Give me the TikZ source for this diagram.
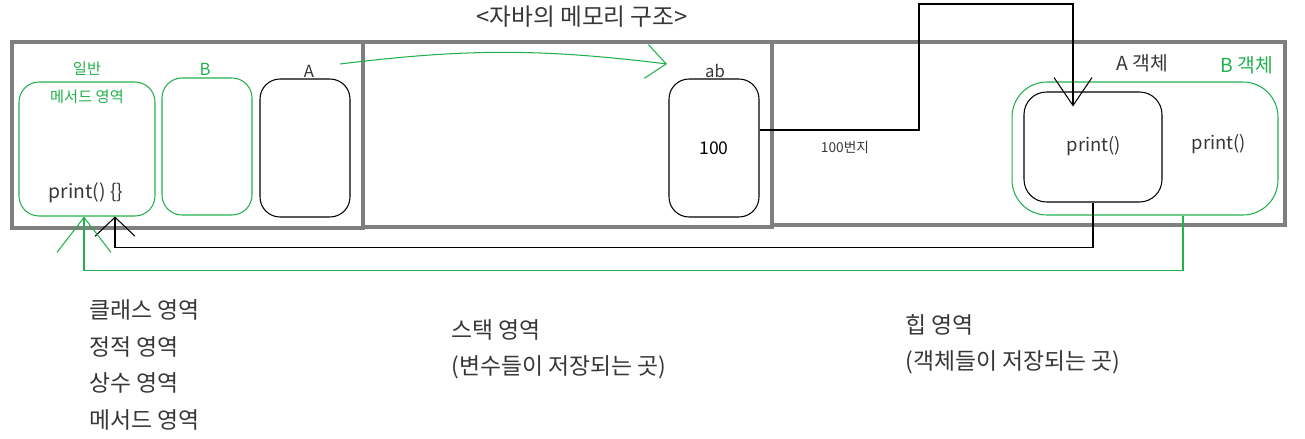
\documentclass[tikz,border=0pt]{standalone}
\usepackage{fontspec}
\setmainfont{Noto Sans CJK KR}
\usepackage{xcolor}
\definecolor{FrameGray}{RGB}{127,127,127}
\definecolor{PaintGreen}{RGB}{34,177,76}
\definecolor{InkGray}{RGB}{55,55,55}
\usetikzlibrary{arrows.meta, positioning}

\begin{document}
\begin{tikzpicture}[
        x=0.02cm, y=-0.02cm,
        line width=0.6pt,
        % Styles
        area/.style={draw=FrameGray, line width=2.8pt},
        slot/.style={draw, rounded corners=0.4cm, minimum width=1.8cm, minimum height=2.76cm, inner sep=0pt},
        gslot/.style={slot, draw=PaintGreen},
        obj/.style={draw, rounded corners=0.45cm, minimum width=2.76cm, minimum height=2.2cm, inner sep=0pt},
        gobj/.style={obj, draw=PaintGreen, rounded corners=0.7cm, minimum width=5.32cm, minimum height=2.66cm},
        txt/.style={text=InkGray, inner sep=1pt, font=\fontsize{9.5}{11}\selectfont},
        gtxt/.style={txt, text=PaintGreen},
        note/.style={txt, anchor=west, font=\fontsize{13}{15}\selectfont},
        ref_arrow/.style={-{Straight Barb[length=0.56cm, width=0.76cm]}},
        back_arrow/.style={-{Straight Barb[length=0.38cm, width=0.8cm]}},
        gback_arrow/.style={PaintGreen, -{Straight Barb[length=0.7cm, width=1.08cm]}},
        gref_arrow/.style={PaintGreen, -{Straight Barb[length=0.4cm, width=0.68cm]}}
    ]
    \useasboundingbox (0,0) rectangle (1305,439);

    % 1. TITLE
    \node[txt, font=\fontsize{13.5}{16}\selectfont] (title) at (582,17) {<자바의 메모리 구조>};

    % 2. THE THREE AREAS
    \draw[area] (12,42) rectangle (363,228);
    \draw[area] (363,42) rectangle (772,227);
    \draw[area] (772,42) rectangle (1285,225);

    % 3. CLASS AREA
    \node[gslot, minimum width=2.72cm, minimum height=2.68cm] (method) at (87,149) {};
    \node[gtxt, font=\fontsize{8.7}{10}\selectfont] (normal) at (87,69) {일반};
    \node[gtxt, font=\fontsize{8.7}{10}\selectfont] (methodlbl) at (87,97) {메서드 영역};
    \node[txt, font=\fontsize{11}{13}\selectfont] (printdef) at (86,193) {print() \{\}};
    \node[gslot, minimum height=2.74cm] (bcls) at (207,146.5) {};
    \node[gtxt] (bclslbl) at (205,69) {B};
    \node[slot] (acls) at (305,148) {};
    \node[txt] (aclslbl) at (309,71) {A};

    % 4. STACK AREA
    \node[slot] (ab) at (714,148) {100};
    \node[txt] (ablbl) at (715,71) {ab};
    \coordinate (refA) at (340,64);
    \coordinate (refAb) at (667,64);
    \draw[gref_arrow] (refA) to[bend left=7] (refAb);

    % 5. HEAP AREA
    \node[gobj] (bobj) at (1145,148.5) {};
    \node[obj] (aobj) at (1093,147) {};
    \node[txt, font=\fontsize{10.5}{12}\selectfont] (aprint) at (1094,146) {print()};
    \node[txt, font=\fontsize{10.5}{12}\selectfont] (bprint) at (1219,144) {print()};
    \node[txt, font=\fontsize{11}{13}\selectfont] (aobjlbl) at (1142,63) {A 객체};
    \node[gtxt, font=\fontsize{11}{13}\selectfont] (bobjlbl) at (1247,65) {B 객체};
    \node[txt, font=\fontsize{7.8}{9}\selectfont] (addr) at (845,147) {100번지};

    % 6. REFERENCES
    \draw[ref_arrow] ([yshift=0.36cm]ab.east) -| (919,4) -| ([xshift=-0.4cm, yshift=-0.3cm]aobj.north);
    \draw[back_arrow] (aobj.south) -- ++(0,45) -| ([xshift=0.56cm]method.south);
    \draw[gback_arrow] ([xshift=0.76cm]bobj.south) -- ++(0,55) -| ([xshift=-0.06cm]method.south);

    % 7. ANNOTATIONS
    \node[note] (n1) at (87,310) {클래스 영역};
    \node[note] (n2) at (87,347) {정적 영역};
    \node[note] (n3) at (87,383) {상수 영역};
    \node[note] (n4) at (87,420) {메서드 영역};
    \node[note] (stacklbl) at (449,330) {스택 영역};
    \node[note] (stacknote) at (449,367) {(변수들이 저장되는 곳)};
    \node[note] (heaplbl) at (903,325) {힙 영역};
    \node[note] (heapnote) at (903,362) {(객체들이 저장되는 곳)};
\end{tikzpicture}
\end{document}
